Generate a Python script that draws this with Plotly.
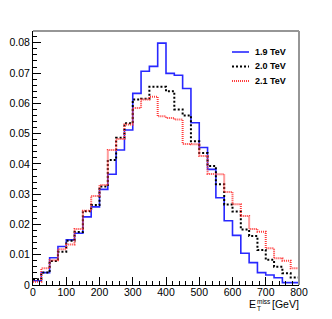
import plotly.graph_objects as go

# Bin edges in GeV (25 GeV bins from 0 to 800)
bin_edges = list(range(0, 825, 25))

series_names = ["1.9 TeV", "2.0 TeV", "2.1 TeV"]

vals_19 = [0.0014, 0.0041, 0.0090, 0.0127, 0.0149, 0.0171, 0.0225, 0.0258,
           0.0316, 0.0366, 0.0446, 0.0512, 0.0633, 0.0706, 0.0722, 0.0799,
           0.0699, 0.0693, 0.0649, 0.0536, 0.0454, 0.0382, 0.0288, 0.0212,
           0.0164, 0.0105, 0.0074, 0.0041, 0.0033, 0.0024, 0.0008, 0.0008]

vals_20 = [0.0019, 0.0041, 0.0079, 0.0110, 0.0146, 0.0175, 0.0244, 0.0264,
           0.0325, 0.0413, 0.0486, 0.0534, 0.0613, 0.0615, 0.0655, 0.0655,
           0.0640, 0.0580, 0.0560, 0.0475, 0.0436, 0.0393, 0.0333, 0.0266,
           0.0243, 0.0183, 0.0162, 0.0116, 0.0083, 0.0060, 0.0039, 0.0025]

vals_21 = [0.0011, 0.0055, 0.0082, 0.0118, 0.0134, 0.0185, 0.0245, 0.0294,
           0.0330, 0.0446, 0.0482, 0.0530, 0.0585, 0.0613, 0.0622, 0.0557,
           0.0552, 0.0547, 0.0466, 0.0465, 0.0426, 0.0367, 0.0366, 0.0307,
           0.0267, 0.0228, 0.0185, 0.0176, 0.0121, 0.0088, 0.0080, 0.0055]

styles = [
    dict(color="rgb(40,40,255)", width=1.6, dash="solid"),
    dict(color="black", width=2, dash="2px,2px"),
    dict(color="rgb(255,60,60)", width=2, dash="1px,1px"),
]

fig = go.Figure()
for name, vals, st in zip(series_names, [vals_19, vals_20, vals_21], styles):
    fig.add_trace(go.Scatter(
        x=bin_edges, y=vals + [vals[-1]], mode="lines", name=name,
        line=dict(shape="hv", **st), showlegend=False, hoverinfo="skip"))

# the page body adds an 8 px margin, so the figure is drawn 8 px smaller
OFF = 8
W, H = 332 - OFF, 319 - OFF
# plot area in screenshot pixels
L, R, T, B = 33, 299, 31, 285


def px(xp):
    return (xp - L) / (R - L)


def py(yp):
    return (B - yp) / (B - T)


font = "Liberation Sans, Arial, Helvetica, sans-serif"

shapes = [
    # top and right frame
    dict(type="line", xref="paper", yref="paper", x0=0, x1=1, y0=1, y1=1,
         line=dict(color="rgb(150,150,150)", width=2)),
    dict(type="line", xref="paper", yref="paper", x0=1, x1=1, y0=0, y1=1,
         line=dict(color="rgb(150,150,150)", width=2)),
]
annotations = []

# legend
leg_y = [52, 66.5, 81]
for name, st, yp in zip(series_names, styles, leg_y):
    shapes.append(dict(type="line", xref="paper", yref="paper",
                       x0=px(232), x1=px(249), y0=py(yp), y1=py(yp),
                       line=dict(color=st["color"], width=st["width"], dash=st["dash"])))
    annotations.append(dict(xref="paper", yref="paper", x=px(253), y=py(yp),
                            xanchor="left", yanchor="middle", showarrow=False,
                            text="<b>%s</b>" % name,
                            font=dict(family=font, size=9, color="black")))

# x axis title: E_T^miss [GeV]
annotations += [
    dict(xref="paper", yref="paper", x=px(248), y=py(304), xanchor="left", yanchor="middle",
         showarrow=False, text="E", borderpad=0,
         font=dict(family=font, size=10.5, color="black")),
    dict(xref="paper", yref="paper", x=px(255.5), y=py(301.5), xanchor="left", yanchor="middle",
         showarrow=False, text="miss", borderpad=0,
         font=dict(family=font, size=6.5, color="black")),
    dict(xref="paper", yref="paper", x=px(255.5), y=py(308.5), xanchor="left", yanchor="middle",
         showarrow=False, text="T", borderpad=0,
         font=dict(family=font, size=6.5, color="black")),
    dict(xref="paper", yref="paper", x=px(299.5), y=py(304), xanchor="right", yanchor="middle",
         showarrow=False, text="[GeV]", borderpad=0,
         font=dict(family=font, size=10.5, color="black")),
]

fig.update_layout(
    width=W, height=H,
    margin=dict(l=L - OFF, r=W - (R - OFF), t=T - OFF, b=H - (B - OFF), pad=0,
                autoexpand=False),
    paper_bgcolor="white", plot_bgcolor="white",
    shapes=shapes, annotations=annotations,
    font=dict(family=font, size=10.5, color="black"),
)
fig.update_xaxes(
    range=[0, 800], dtick=100, tick0=0, ticks="inside", ticklen=8, tickwidth=1,
    tickcolor="black", showgrid=False, zeroline=False, showline=True,
    linecolor="black", linewidth=1, automargin=False, ticklabelstandoff=-3,
    minor=dict(dtick=20, ticks="inside", ticklen=4, tickcolor="black", showgrid=False),
    tickfont=dict(family=font, size=10.5, color="black"),
)
fig.update_yaxes(
    range=[0, 0.0839], dtick=0.01, tick0=0, ticks="inside", ticklen=8, tickwidth=1,
    tickcolor="black", showgrid=False, zeroline=False, showline=True,
    linecolor="black", linewidth=1, automargin=False,
    minor=dict(dtick=0.002, ticks="inside", ticklen=4, tickcolor="black", showgrid=False),
    tickfont=dict(family=font, size=10.5, color="black"),
)

fig.write_html("out.html")
